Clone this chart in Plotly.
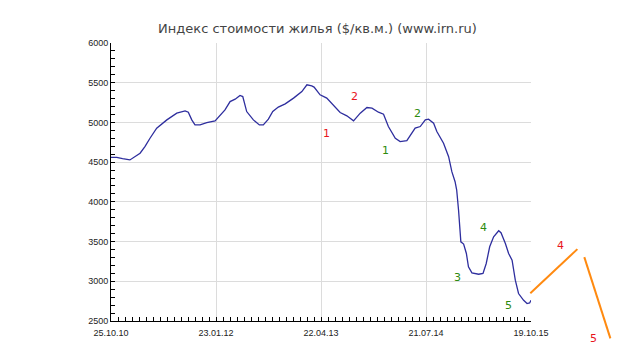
import pandas as pd
import plotly.graph_objects as go

# ---- data ----
start_date = "2010-10-25"
day_offsets = [0, 25, 50, 82, 126, 147, 169, 198, 242, 285, 321, 335, 350, 364, 386, 415,
               451, 473, 494, 516, 538, 559, 571, 588, 617, 643, 660, 682, 701, 725, 755,
               791, 827, 849, 870, 880, 906, 935, 964, 993, 1022, 1051, 1080, 1109, 1131,
               1159, 1181, 1202, 1232, 1253, 1282, 1304, 1318, 1340, 1362, 1376, 1398,
               1412, 1441, 1463, 1477, 1491, 1498, 1506, 1516, 1528, 1540, 1549, 1564,
               1593, 1612, 1626, 1641, 1658, 1680, 1690, 1709, 1723, 1738, 1752, 1766,
               1788, 1803, 1814, 1820]
index_values = [4560, 4560, 4545, 4528, 4612, 4696, 4801, 4928, 5032, 5117, 5146, 5129, 5032,
                4969, 4969, 4998, 5020, 5095, 5158, 5263, 5293, 5339, 5326, 5137, 5032, 4969,
                4969, 5041, 5137, 5193, 5234, 5306, 5389, 5474, 5461, 5445, 5348, 5306, 5222,
                5125, 5083, 5020, 5117, 5188, 5180, 5129, 5104, 4948, 4801, 4758, 4771, 4864,
                4928, 4948, 5032, 5041, 4990, 4885, 4738, 4569, 4380, 4254, 4149, 3897, 3497,
                3468, 3350, 3182, 3106, 3089, 3098, 3224, 3434, 3560, 3636, 3611, 3476, 3350,
                3266, 3014, 2846, 2761, 2720, 2727, 2761]

# forecast (orange) segments: day offset / value pairs
forecast1_days = [1817, 2021]
forecast1_vals = [2850, 3405]
forecast2_days = [2051, 2164]
forecast2_vals = [3304, 2282]

# wave labels
label_text = ["1", "2", "1", "2", "3", "4", "5", "4", "5"]
label_days = [932, 1054, 1188, 1327, 1500, 1613, 1722, 1947, 2090]
label_vals = [4856, 5322, 4641, 5108, 3051, 3682, 2698, 3455, 2282]
label_kind = ["red", "red", "green", "green", "green", "green", "green", "red", "red"]

tick_dates = ["2010-10-25", "2012-01-23", "2013-04-22", "2014-07-21", "2015-10-19"]
tick_labels = ["25.10.10", "23.01.12", "22.04.13", "21.07.14", "19.10.15"]
y_range = [2500, 6000]

title_text = "Индекс стоимости жилья ($/кв.м.) (www.irn.ru)"

# ---- build ----
t0 = pd.Timestamp(start_date)
def to_dates(days):
    return [t0 + pd.Timedelta(days=d) for d in days]

# the page body has an 8px default margin, so the figure is sized to fit the window
W, H = 619, 347
ml, mt = 103, 35
plot_w, plot_h = W - ml, H - mt
main_w, main_h = 420, 278
xdom = main_w / plot_w
ybot = 1 - main_h / plot_h

span_days = (pd.Timestamp(tick_dates[-1]) - t0).days
x2_end = t0 + pd.Timedelta(days=span_days * plot_w / main_w)
y2_low = y_range[0] - (y_range[1] - y_range[0]) * (plot_h - main_h) / main_h

colors = {"red": "#e8141c", "green": "#2e8a0e"}

fig = go.Figure()
fig.add_trace(go.Scatter(x=to_dates(day_offsets), y=index_values, mode="lines",
                         line=dict(color="#2e2e9e", width=1.3), xaxis="x", yaxis="y",
                         hoverinfo="skip"))
for d, v in ((forecast1_days, forecast1_vals), (forecast2_days, forecast2_vals)):
    fig.add_trace(go.Scatter(x=to_dates(d), y=v, mode="lines",
                             line=dict(color="#ff8a10", width=2), xaxis="x2", yaxis="y2",
                             hoverinfo="skip"))

for txt, d, v, k in zip(label_text, label_days, label_vals, label_kind):
    fig.add_annotation(x=t0 + pd.Timedelta(days=d), y=v, xref="x2", yref="y2", text=txt,
                       showarrow=False, font=dict(family="DejaVu Sans", size=11, color=colors[k]))

fig.update_layout(
    width=W, height=H,
    margin=dict(l=ml, r=0, t=mt, b=0, pad=0, autoexpand=False),
    paper_bgcolor="white", plot_bgcolor="rgba(0,0,0,0)",
    showlegend=False,
    title=dict(text=title_text, x=0.5, xanchor="center", y=1 - 20 / H, yanchor="middle",
               automargin=False,
               font=dict(family="DejaVu Sans", size=13, color="#444444")),
    xaxis=dict(type="date", domain=[0, xdom], anchor="y", automargin=False,
               range=[t0, pd.Timestamp(tick_dates[-1])],
               tickmode="array", tickvals=tick_dates, ticktext=tick_labels,
               showgrid=True, gridcolor="#dcdcdc", gridwidth=1,
               showline=True, linecolor="black", linewidth=1,
               ticks="inside", ticklen=4, tickcolor="black", ticklabelstandoff=3,
               minor=dict(ticks="inside", ticklen=4, tickcolor="black",
                          dtick=span_days / 4 / 15 * 86400000, tick0=start_date, showgrid=False),
               tickfont=dict(family="Liberation Sans", size=9, color="#222222"),
               zeroline=False, fixedrange=True),
    yaxis=dict(domain=[ybot, 1], anchor="x", range=y_range, dtick=500, tick0=2500,
               automargin=False,
               showgrid=True, gridcolor="#dcdcdc", gridwidth=1,
               showline=True, linecolor="black", linewidth=1,
               ticks="inside", ticklen=4, tickcolor="black",
               minor=dict(ticks="inside", ticklen=4, tickcolor="black", dtick=100, showgrid=False),
               tickfont=dict(family="Liberation Sans", size=9, color="#222222"),
               zeroline=False, fixedrange=True),
    xaxis2=dict(type="date", domain=[0, 1], anchor="y2", range=[t0, x2_end], visible=False,
                automargin=False, fixedrange=True),
    yaxis2=dict(domain=[0, 1], anchor="x2", range=[y2_low, y_range[1]], visible=False,
                automargin=False, fixedrange=True),
)

fig.write_html("out.html")
